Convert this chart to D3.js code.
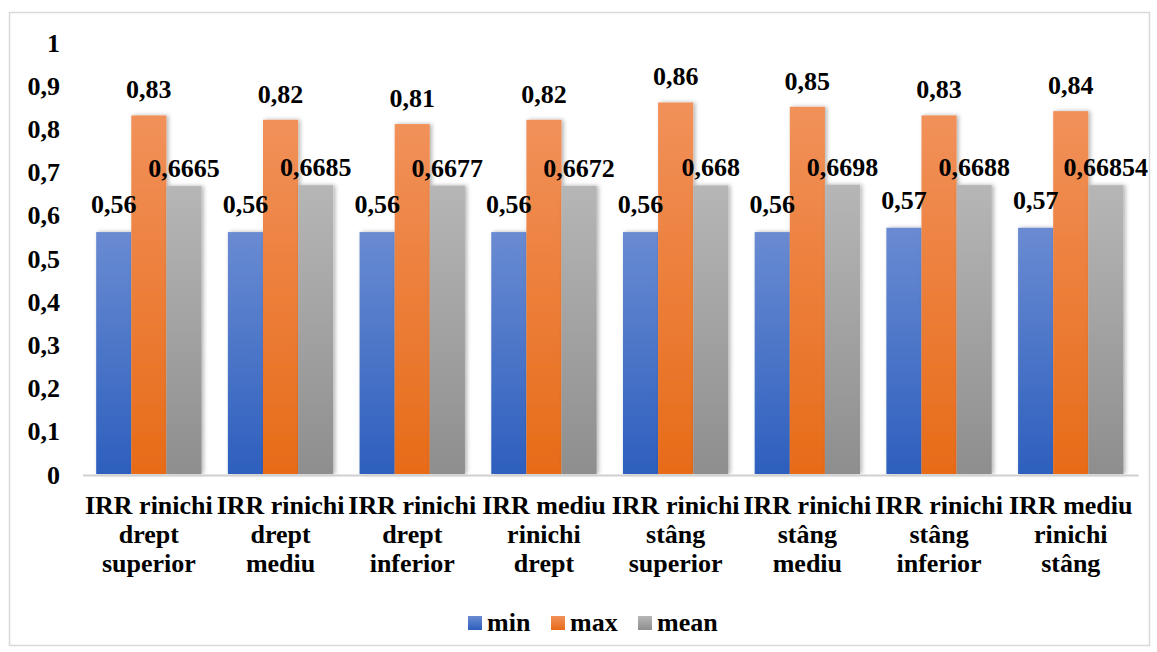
<!DOCTYPE html>
<html><head><meta charset="utf-8">
<script src="https://cdn.jsdelivr.net/npm/d3@7"></script>
<style>body{margin:0;background:#fff}svg{display:block}</style>
</head><body>
<svg id="c" width="1157" height="652"></svg>
<script>
const categories = [
  ["IRR rinichi","drept","superior"],
  ["IRR rinichi","drept","mediu"],
  ["IRR rinichi","drept","inferior"],
  ["IRR mediu","rinichi","drept"],
  ["IRR rinichi","stâng","superior"],
  ["IRR rinichi","stâng","mediu"],
  ["IRR rinichi","stâng","inferior"],
  ["IRR mediu","rinichi","stâng"]
];
const seriesNames = ["min","max","mean"];
const minValues  = [0.56,0.56,0.56,0.56,0.56,0.56,0.57,0.57];
const maxValues  = [0.83,0.82,0.81,0.82,0.86,0.85,0.83,0.84];
const meanValues = [0.6665,0.6685,0.6677,0.6672,0.668,0.6698,0.6688,0.66854];
const meanLabels = ["0,6665","0,6685","0,6677","0,6672","0,668","0,6698","0,6688","0,66854"];
const yTicks = [0,0.1,0.2,0.3,0.4,0.5,0.6,0.7,0.8,0.9,1];

const FONT = "'Liberation Serif', Tinos, 'Times New Roman', 'DejaVu Serif', serif";
const svg = d3.select("#c");
const defs = svg.append("defs");
const grads = [["gMin","#6a8bd2","#2d5fbe"],["gMax","#f1915a","#e76b18"],["gMean","#b6b6b6","#8e8e8e"]];
grads.forEach(([id,a,b])=>{
  const g = defs.append("linearGradient").attr("id",id).attr("x1",0).attr("y1",0).attr("x2",0).attr("y2",1);
  g.append("stop").attr("offset","0%").attr("stop-color",a);
  g.append("stop").attr("offset","100%").attr("stop-color",b);
});
const f = defs.append("filter").attr("id","sh").attr("x","-20%").attr("y","-5%").attr("width","140%").attr("height","110%");
f.append("feDropShadow").attr("dx",2).attr("dy",0).attr("stdDeviation",2).attr("flood-color","#000").attr("flood-opacity",0.3);

svg.append("rect").attr("x",9.5).attr("y",12.5).attr("width",1140).attr("height",633)
  .attr("fill","#fff").attr("stroke","#d9d9d9").attr("stroke-width",1.5);

const x0 = 83, x1 = 1136.6, yBase = 474, yTop = 42;
const y = d3.scaleLinear().domain([0,1]).range([yBase,yTop]);
const xb = d3.scaleBand().domain(d3.range(categories.length)).range([x0,x1]).paddingInner(0.2).paddingOuter(0.1);
const xs = d3.scaleBand().domain(seriesNames).range([0,xb.bandwidth()]);

const series = [
  {name:"min", vals:minValues, labels:minValues.map(v=>String(v).replace(".",",")), fill:"url(#gMin)", off:19},
  {name:"max", vals:maxValues, labels:maxValues.map(v=>String(v).replace(".",",")), fill:"url(#gMax)", off:17},
  {name:"mean", vals:meanValues, labels:meanLabels, fill:"url(#gMean)", off:9}
];

function styleText(sel){ return sel.attr("font-family",FONT).attr("font-weight","bold").attr("fill","#000").attr("font-size",26); }

// y axis labels
const yAxis = d3.axisLeft(y).tickValues(yTicks).tickSize(0).tickPadding(0)
  .tickFormat(d=>d3.format(".1~f")(d).replace(".",","));
const ga = svg.append("g").attr("transform","translate(60,0)").call(yAxis);
ga.attr("font-family",FONT);
ga.select(".domain").remove();
styleText(ga.selectAll("text")).attr("dy","0.35em");

// bars
const gb = svg.append("g");
series.forEach(s=>{
  gb.selectAll(null).data(s.vals).enter().append("rect")
    .attr("x",(d,i)=>xb(i)+xs(s.name))
    .attr("y",d=>y(d))
    .attr("width",xs.bandwidth())
    .attr("height",d=>yBase-y(d))
    .attr("fill",s.fill)
    .attr("filter","url(#sh)");
});
// baseline
svg.append("line").attr("x1",x0).attr("x2",x1+2).attr("y1",yBase+1.5).attr("y2",yBase+1.5)
  .attr("stroke","#d0d0d0").attr("stroke-width",2);

// data labels
series.forEach(s=>{
  styleText(svg.append("g").selectAll("text").data(s.vals).enter().append("text"))
    .attr("x",(d,i)=>xb(i)+xs(s.name)+xs.bandwidth()/2)
    .attr("y",d=>y(d)-s.off)
    .attr("text-anchor","middle")
    .text((d,i)=>s.labels[i]);
});

// category labels
const xAxis = d3.axisBottom(xb).tickSize(0).tickFormat(()=>"");
const gx = svg.append("g").attr("transform",`translate(0,${yBase})`).call(xAxis);
gx.attr("font-family",FONT);
gx.select(".domain").remove();
gx.selectAll(".tick").each(function(i){
  const t = styleText(d3.select(this).append("text")).attr("text-anchor","middle");
  categories[i].forEach((line,k)=>{
    t.append("tspan").attr("x",0).attr("y",40+k*29).text(line);
  });
});

// legend
const legend = [["min","url(#gMin)",468],["max","url(#gMax)",551],["mean","url(#gMean)",638]];
const gl = svg.append("g");
legend.forEach(([n,fl,lx])=>{
  gl.append("rect").attr("x",lx).attr("y",616).attr("width",14).attr("height",14).attr("fill",fl);
  styleText(gl.append("text")).attr("x",lx+19).attr("y",631).text(n);
});
</script>
</body></html>
